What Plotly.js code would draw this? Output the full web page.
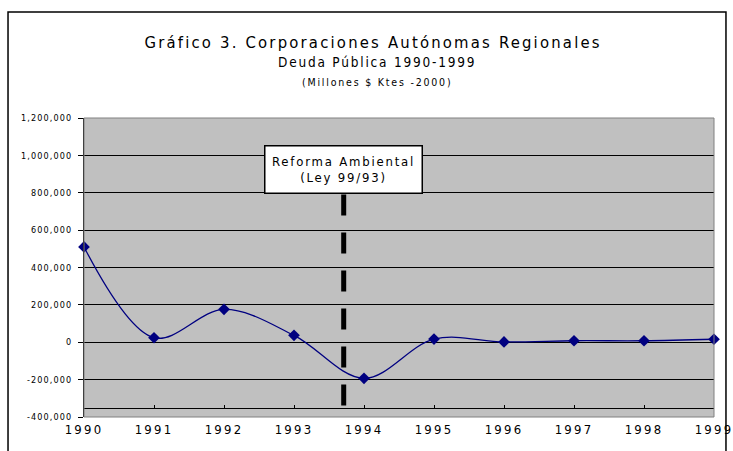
<!DOCTYPE html>
<html>
<head>
<meta charset="utf-8">
<script src="https://cdn.plot.ly/plotly-3.0.1.min.js"></script>
<style>
  html, body { margin: 0; padding: 0; background: #fff; }
  #chart { width: 733px; height: 451px; }
  .gtitle { letter-spacing: 2.2px; }
  .annotation-text { letter-spacing: 1.8px; }
  .xtick text { letter-spacing: 2.2px; }
  .ytick text { letter-spacing: 1.1px; }
</style>
</head>
<body>
<div id="chart"></div>
<script>
// ---- data ----
const years = [1990, 1991, 1992, 1993, 1994, 1995, 1996, 1997, 1998, 1999];
const deuda = [510000, 24000, 176000, 37000, -193000, 17000, 2000, 8000, 8000, 16000];

const yTickVals = [-400000, -200000, 0, 200000, 400000, 600000, 800000, 1000000, 1200000];
const yTickText = ["-400,000", "-200,000", "0", "200,000", "400,000", "600,000", "800,000", "1,000,000", "1,200,000"];
const xTickVals = years;
const xTickText = ["1990", "1991", "1992", "1993", "1994", "1995", "1996", "1997", "1998", "1999"];

const reformYear = 1993.71;        // position of the "Reforma Ambiental" marker
const reformLineTop = 790000;
const axisCross = -350000;         // where the category axis crosses
const titleText = "Gráfico 3. Corporaciones Autónomas Regionales";
const subtitle1 = "Deuda Pública 1990-1999";
const subtitle2 = "(Millones $ Ktes -2000)";
const reformText = "Reforma Ambiental<br>(Ley 99/93)";

const FONT = "DejaVu Sans Condensed, Liberation Sans Narrow, Liberation Sans, Arial, sans-serif";

const trace = {
  x: years,
  y: deuda,
  type: "scatter",
  mode: "lines+markers",
  line: { color: "#000080", width: 1.3, shape: "spline", smoothing: 1 },
  marker: { symbol: "diamond", size: 9, color: "#000080" },
  cliponaxis: false,
  hoverinfo: "x+y"
};

const layout = {
  width: 733,
  height: 451,
  margin: { l: 84, r: 19, t: 118, b: 34 },
  paper_bgcolor: "#ffffff",
  plot_bgcolor: "#c0c0c0",
  showlegend: false,
  font: { family: FONT, color: "#000" },
  title: {
    text: titleText,
    font: { family: FONT, size: 16.5, color: "#000" },
    x: 0.509, xanchor: "center",
    y: 0.907, yanchor: "middle"
  },
  xaxis: {
    range: [1990, 1999],
    tickvals: xTickVals,
    ticktext: xTickText,
    tickfont: { family: FONT, size: 13, color: "#000" },
    showgrid: false,
    zeroline: false,
    showline: true,
    linecolor: "#000",
    linewidth: 1,
    ticks: "inside",
    ticklen: 3,
    tickcolor: "#000",
    anchor: "free",
    position: 0.030,
    ticklabelstandoff: 9,
    ticklabeloverflow: "allow"
  },
  yaxis: {
    range: [-400000, 1200000],
    tickvals: yTickVals,
    ticktext: yTickText,
    tickfont: { family: FONT, size: 9, color: "#000" },
    showgrid: true,
    gridcolor: "#000",
    gridwidth: 1,
    zeroline: true,
    zerolinecolor: "#000",
    zerolinewidth: 1,
    showline: true,
    linecolor: "#000",
    linewidth: 1,
    ticks: "outside",
    ticklen: 5,
    tickcolor: "#000",
    ticklabelstandoff: 4
  },
  shapes: [
    { type: "rect", xref: "paper", yref: "paper", x0: 0, x1: 1, y0: 0, y1: 1,
      line: { color: "#808080", width: 1 }, fillcolor: "rgba(0,0,0,0)", layer: "above" },
    { type: "rect", xref: "paper", yref: "paper", x0: -0.1206, x1: 1.019, y0: -0.16, y1: 1.3545,
      line: { color: "#000", width: 1.5 }, fillcolor: "rgba(0,0,0,0)", layer: "below" },
    { type: "line", xref: "x", yref: "y", x0: reformYear, x1: reformYear, y0: reformLineTop, y1: axisCross,
      line: { color: "#000", width: 5, dash: "21px,17px" }, layer: "above" }
  ],
  annotations: [
    { xref: "paper", yref: "paper", x: 0.465, y: 1.187, xanchor: "center", yanchor: "middle",
      text: subtitle1, showarrow: false, font: { family: FONT, size: 13.5, color: "#000" } },
    { xref: "paper", yref: "paper", x: 0.465, y: 1.120, xanchor: "center", yanchor: "middle",
      text: subtitle2, showarrow: false, font: { family: FONT, size: 10.5, color: "#000" } },
    { xref: "x", yref: "y", x: reformYear, y: 925000, xanchor: "center", yanchor: "middle",
      text: reformText, showarrow: false, align: "center",
      font: { family: FONT, size: 13, color: "#000" },
      bgcolor: "#ffffff", bordercolor: "#000", borderwidth: 1.5, borderpad: 3,
      width: 150, height: 40 }
  ]
};

Plotly.newPlot("chart", [trace], layout, { displayModeBar: false, staticPlot: true });
</script>
</body>
</html>
